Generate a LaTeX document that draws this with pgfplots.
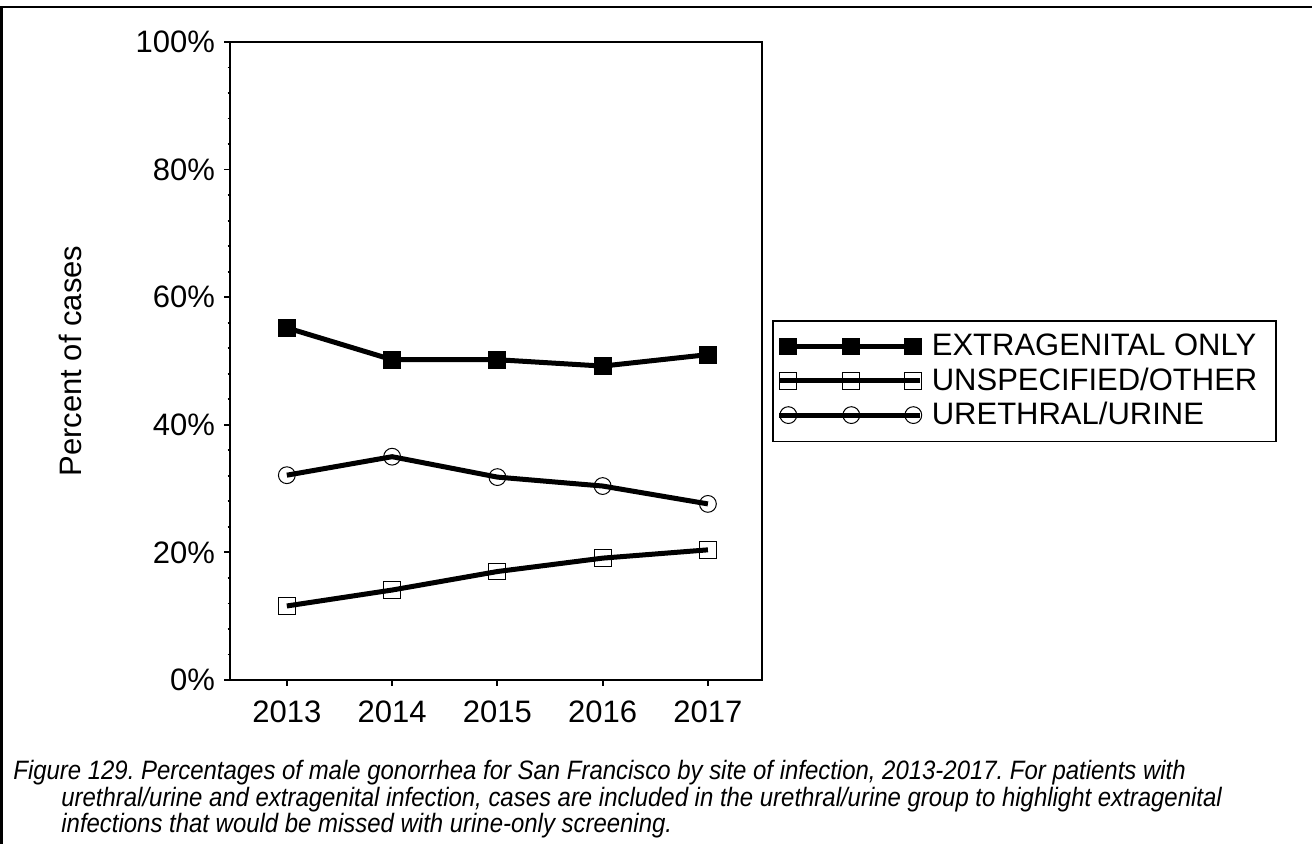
\documentclass[border=0pt]{standalone}
\usepackage{fontspec}
\setmainfont{Liberation Sans}
\newfontfamily\capfont[FakeStretch=0.9]{Liberation Sans}
\usepackage{pgfplots}
\pgfplotsset{compat=1.18}
\frenchspacing
\begin{document}
\begin{tikzpicture}[x=1pt,y=1pt]
\path[use as bounding box] (0,0) rectangle (656,422);
\draw[line width=1.2pt] (0.75,0) -- (0.75,418.6) -- (656,418.6);
\begin{axis}[
  at={(115pt,82pt)}, anchor=south west,
  scale only axis, width=265.8pt, height=319pt,
  xmin=2012.46, xmax=2017.51, ymin=0, ymax=100,
  xtick={2013,2014,2015,2016,2017},
  xticklabels={2013,2014,2015,2016,2017},
  ytick={0,20,40,60,80,100},
  yticklabels={0\%,20\%,40\%,60\%,80\%,100\%},
  minor y tick num=4,
  tick align=outside, xtick pos=bottom, ytick pos=left,
  major tick length=3pt, minor tick length=1.2pt,
  axis line style={line width=0.9pt},
  every tick/.style={black, line width=0.9pt},
  /pgf/number format/assume math mode=true,
  tick label style={font=\fontsize{15.5pt}{18pt}\selectfont},
  xticklabel style={yshift=-4pt},
  yticklabel style={xshift=-1pt},
  ylabel={Percent of cases},
  every axis y label/.style={at={(axis description cs:-0.301,0.5)}, rotate=90, anchor=center, font=\fontsize{15.5pt}{18pt}\selectfont},
  legend style={at={(axis description cs:1.0196,0.5643)}, anchor=north west, draw=black, line width=0.8pt,
    font=\fontsize{15.5pt}{18pt}\selectfont, inner xsep=2pt, inner ysep=4.75pt, row sep=0.5pt, column sep=2.5pt,
    nodes={inner sep=2pt}},
  legend cell align=left,
  legend image code/.code={
    \draw[#1,mark=none] (0pt,0pt) -- (70.5pt,0pt);
    \draw[#1,only marks] plot coordinates {(4.5pt,0pt) (36pt,0pt) (67pt,0pt)};
  },
]
\addplot[black, line width=2.5pt, mark=square*, mark size=4.2pt, mark options={line width=0.5pt, fill=black}]
  coordinates {(2013,55.2) (2014,50.2) (2015,50.2) (2016,49.2) (2017,51.0)};
\addlegendentry{EXTRAGENITAL ONLY\hspace*{6pt}}
\addplot[black, line width=2.5pt, mark=square, mark size=4.2pt, mark options={line width=0.5pt, fill=none}]
  coordinates {(2013,11.6) (2014,14.1) (2015,17.0) (2016,19.1) (2017,20.4)};
\addlegendentry{UNSPECIFIED/OTHER}
\addplot[black, line width=2.5pt, mark=o, mark size=4.2pt, mark options={line width=0.5pt, fill=none}]
  coordinates {(2013,32.1) (2014,35.0) (2015,31.8) (2016,30.4) (2017,27.6)};
\addlegendentry{URETHRAL/URINE}
\end{axis}
\begin{scope}[every node/.style={anchor=base west, inner sep=0pt, font=\capfont\itshape\fontsize{13.3pt}{16pt}\selectfont}]
\node at (6.5,32) {Figure 129. Percentages of male gonorrhea for San Francisco by site of infection, 2013-2017. For patients with};
\node at (30.5,18.65) {urethral/urine and extragenital infection, cases are included in the urethral/urine group to highlight extragenital};
\node at (30.5,5.5) {infections that would be missed with urine-only screening.};
\end{scope}
\end{tikzpicture}
\end{document}
